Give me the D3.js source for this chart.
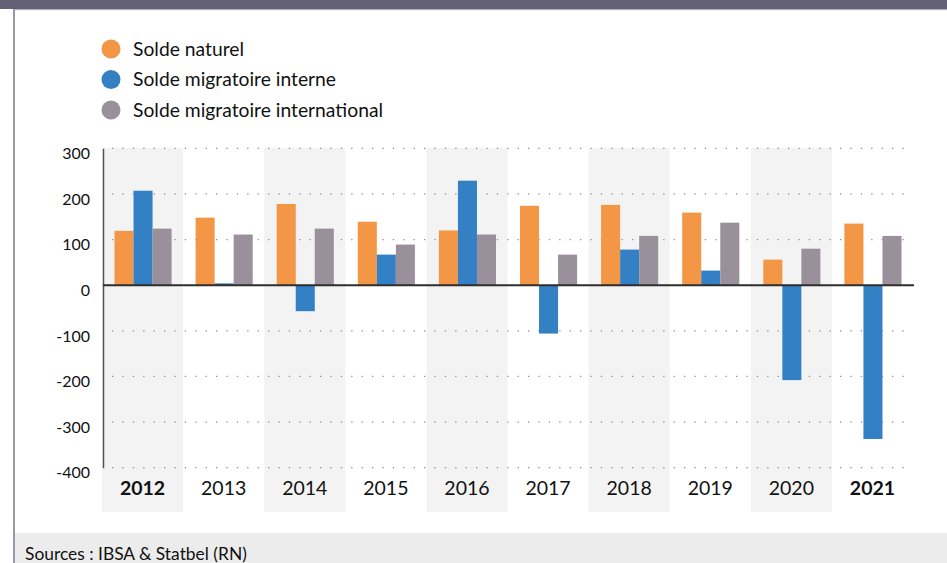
<!DOCTYPE html>
<html><head><meta charset="utf-8">
<script src="https://cdn.jsdelivr.net/npm/d3@7"></script>
<style>html,body{margin:0;padding:0;background:#fff;overflow:hidden}</style>
</head><body>
<svg id="c" width="947" height="563"></svg>
<script>
const years = ["2012","2013","2014","2015","2016","2017","2018","2019","2020","2021"];
const boldYears = ["2012","2021"];
const seriesNames = ["Solde naturel","Solde migratoire interne","Solde migratoire international"];
const soldeNaturel = [119,148,178,139,120,174,176,159,56,135];
const soldeInterne = [207,4,-57,67,229,-106,78,32,-208,-337];
const soldeInternational = [124,111,124,89,111,67,108,137,80,108];
const yTicks = [300,200,100,0,-100,-200,-300,-400];
const colors = ["#F39646","#3380C4","#9A909B"];
const sourceText = "Sources : IBSA & Statbel (RN)";

const values = [soldeNaturel, soldeInterne, soldeInternational];
const svg = d3.select("#c");
const font = "Lato, 'Open Sans', sans-serif";

// frame
svg.append("rect").attr("x",0).attr("y",0).attr("width",947).attr("height",9).attr("fill","#646176");
svg.append("rect").attr("x",14).attr("y",9).attr("width",933).attr("height",1.2).attr("fill","#b5b3c2");
svg.append("rect").attr("x",15).attr("y",533).attr("width",932).attr("height",30).attr("fill","#ececec");
svg.append("rect").attr("x",13).attr("y",9).attr("width",2).attr("height",554).attr("fill","#9b98aa");
svg.append("text").attr("x",25).attr("y",560).attr("fill","#111").attr("font-family",font).attr("font-size",17.4).text(sourceText);

// scales
const x = d3.scaleBand().domain(years).range([102,913]).padding(0);
const xs = d3.scaleBand().domain(seriesNames).range([12.5, x.bandwidth()-11.5]).padding(0);
const y = d3.scaleLinear().domain([-400,300]).range([467.7,148.3]);

// grey bands
svg.append("g").selectAll("rect").data(years.filter((d,i)=>i%2===0)).join("rect")
  .attr("x",d=>x(d)).attr("width",x.bandwidth()).attr("y",148).attr("height",364).attr("fill","#f3f3f3");

// dotted gridlines
svg.append("g").selectAll("line").data(yTicks.filter(d=>d!==0)).join("line")
  .attr("x1",112).attr("x2",912).attr("y1",d=>y(d)).attr("y2",d=>y(d))
  .attr("stroke","#8e8e8e").attr("stroke-width",1.3).attr("stroke-dasharray","1.3 9.1");

// y axis
const yAxis = d3.axisLeft(y).tickValues(yTicks).tickFormat(d=>String(d)).tickSize(0).tickPadding(0);
const ga = svg.append("g").attr("transform","translate(103,0)").call(yAxis);
ga.select(".domain").attr("stroke","#555").attr("stroke-width",1.5);
ga.selectAll("text").attr("x",-13).attr("dy","0.95em").attr("font-family",font).attr("font-size",16).attr("fill","#111");
ga.selectAll("text").attr("transform","translate(0,-5)");

// bars
const gb = svg.append("g");
seriesNames.forEach((s,si)=>{
  gb.append("g").selectAll("rect").data(years).join("rect")
    .attr("x",d=>x(d)+xs(s)).attr("width",xs.bandwidth())
    .attr("y",(d,i)=>y(Math.max(0,values[si][i])))
    .attr("height",(d,i)=>Math.abs(y(values[si][i])-y(0)))
    .attr("fill",colors[si]);
});

// zero line
svg.append("line").attr("x1",103).attr("x2",914).attr("y1",y(0)).attr("y2",y(0)).attr("stroke","#2e2e2e").attr("stroke-width",2);

// x axis labels
const xAxis = d3.axisBottom(x).tickSize(0).tickPadding(0);
const gx = svg.append("g").attr("transform","translate(0,488)").call(xAxis);
gx.select(".domain").remove();
gx.selectAll("text").attr("y",0).attr("dy","0.35em").attr("font-family",font).attr("font-size",19.5).attr("fill","#111")
  .attr("font-weight",d=>boldYears.includes(d)?"bold":"normal");

// legend
const lg = svg.append("g");
seriesNames.forEach((s,i)=>{
  const cy = 49 + i*30.5;
  lg.append("circle").attr("cx",111).attr("cy",cy).attr("r",9.5).attr("fill",colors[i]);
  lg.append("text").attr("x",133).attr("y",cy).attr("dy","0.35em").attr("font-family",font).attr("font-size",19.3).attr("fill","#111").text(s);
});
</script>
</body></html>
